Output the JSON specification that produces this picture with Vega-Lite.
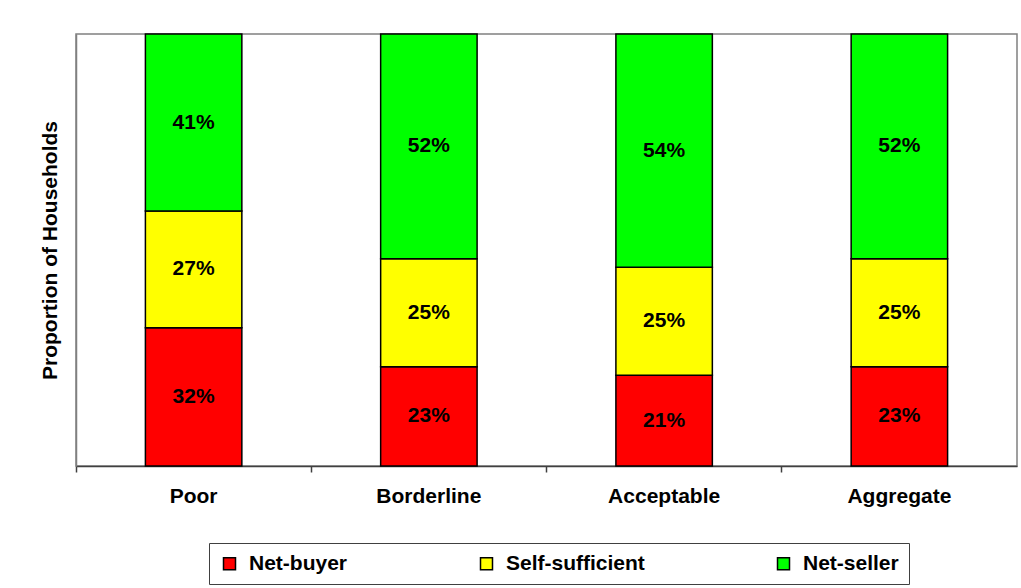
{
  "$schema": "https://vega.github.io/schema/vega-lite/v6.json",
  "width": 941,
  "height": 432,
  "autosize": {"type": "none"},
  "padding": {"left": 76, "top": 34, "right": 4, "bottom": 122},
  "background": "white",
  "config": {
    "font": "Liberation Sans",
    "view": {"stroke": "#808080", "strokeWidth": 1.5}
  },
  "data": {
    "values": [
      {"group": "Poor", "type": "Net-buyer", "order": 1, "pct": 32, "label": "32%"},
      {"group": "Poor", "type": "Self-sufficient", "order": 2, "pct": 27, "label": "27%"},
      {"group": "Poor", "type": "Net-seller", "order": 3, "pct": 41, "label": "41%"},
      {"group": "Borderline", "type": "Net-buyer", "order": 1, "pct": 23, "label": "23%"},
      {"group": "Borderline", "type": "Self-sufficient", "order": 2, "pct": 25, "label": "25%"},
      {"group": "Borderline", "type": "Net-seller", "order": 3, "pct": 52, "label": "52%"},
      {"group": "Acceptable", "type": "Net-buyer", "order": 1, "pct": 21, "label": "21%"},
      {"group": "Acceptable", "type": "Self-sufficient", "order": 2, "pct": 25, "label": "25%"},
      {"group": "Acceptable", "type": "Net-seller", "order": 3, "pct": 54, "label": "54%"},
      {"group": "Aggregate", "type": "Net-buyer", "order": 1, "pct": 23, "label": "23%"},
      {"group": "Aggregate", "type": "Self-sufficient", "order": 2, "pct": 25, "label": "25%"},
      {"group": "Aggregate", "type": "Net-seller", "order": 3, "pct": 52, "label": "52%"}
    ]
  },
  "transform": [
    {"stack": "pct", "groupby": ["group"], "sort": [{"field": "order", "order": "ascending"}], "as": ["y0", "y1"]},
    {"calculate": "(datum.y0 + datum.y1) / 2", "as": "ymid"}
  ],
  "encoding": {
    "x": {
      "field": "group",
      "type": "nominal",
      "sort": ["Poor", "Borderline", "Acceptable", "Aggregate"],
      "scale": {"paddingInner": 0.59, "paddingOuter": 0.295},
      "axis": {
        "title": null,
        "labelAngle": 0,
        "labelFontSize": 21,
        "labelFontWeight": "bold",
        "labelColor": "black",
        "labelPadding": 13,
        "bandPosition": -0.7195,
        "tickSize": 6,
        "tickColor": "#404040",
        "tickWidth": 1.5,
        "domainColor": "#404040",
        "domainWidth": 1.5
      }
    }
  },
  "layer": [
    {
      "mark": {"type": "bar", "stroke": "black", "strokeWidth": 1.5},
      "encoding": {
        "y": {
          "field": "y0",
          "type": "quantitative",
          "scale": {"domain": [0, 100], "nice": false},
          "axis": {
            "title": "Proportion of Households",
            "titleFontSize": 21,
            "titleFontWeight": "bold",
            "titleColor": "black",
            "titlePadding": 16,
            "labels": false,
            "ticks": false,
            "grid": false,
            "domainColor": "#808080",
            "domainWidth": 1.5
          }
        },
        "y2": {"field": "y1"},
        "color": {
          "field": "type",
          "type": "nominal",
          "scale": {
            "domain": ["Net-buyer", "Self-sufficient", "Net-seller"],
            "range": ["#FF0000", "#FFFF00", "#00FF00"]
          },
          "legend": {
            "title": null,
            "orient": "none",
            "direction": "horizontal",
            "legendX": 133,
            "legendY": 509,
            "padding": 10,
            "fillColor": "white",
            "strokeColor": "#404040",
            "columnPadding": 128,
            "symbolType": "square",
            "symbolSize": 144,
            "symbolStrokeColor": "black",
            "symbolStrokeWidth": 1.5,
            "labelFontSize": 21,
            "labelFontWeight": "bold",
            "labelColor": "black",
            "labelOffset": 9
          }
        }
      }
    },
    {
      "mark": {"type": "text", "fontSize": 21, "fontWeight": "bold", "color": "black", "baseline": "middle"},
      "encoding": {
        "y": {"field": "ymid", "type": "quantitative"},
        "text": {"field": "label"}
      }
    }
  ]
}
